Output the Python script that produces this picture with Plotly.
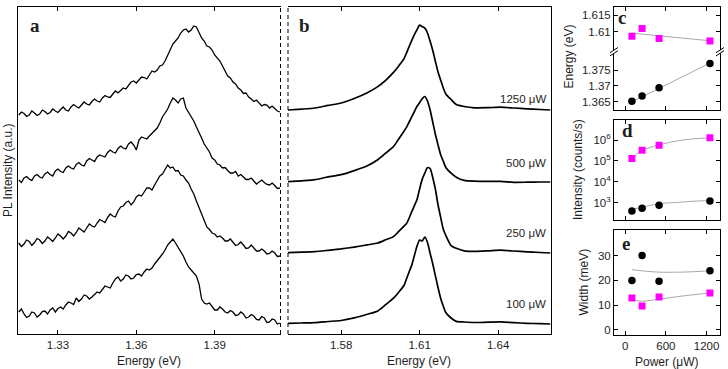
import plotly.graph_objects as go

W, H = 728, 369

# ---------------- Panel a: PL spectra (low-energy band), offsets included ----------------
energy_a = [1.315, 1.316, 1.317, 1.318, 1.319, 1.320, 1.321, 1.322, 1.323, 1.324,
            1.325, 1.326, 1.327, 1.328, 1.329, 1.330, 1.331, 1.332, 1.333, 1.334,
            1.335, 1.336, 1.337, 1.338, 1.339, 1.340, 1.341, 1.342, 1.343, 1.344,
            1.345, 1.346, 1.347, 1.348, 1.349, 1.350, 1.351, 1.352, 1.353, 1.354,
            1.355, 1.356, 1.357, 1.358, 1.359, 1.360, 1.361, 1.362, 1.363, 1.364,
            1.365, 1.366, 1.367, 1.368, 1.369, 1.370, 1.371, 1.372, 1.373, 1.374,
            1.375, 1.376, 1.377, 1.378, 1.379, 1.380, 1.381, 1.382, 1.383, 1.384,
            1.385, 1.386, 1.387, 1.388, 1.389, 1.390, 1.391, 1.392, 1.393, 1.394,
            1.395, 1.396, 1.397, 1.398, 1.399, 1.400, 1.401, 1.402, 1.403, 1.404,
            1.405, 1.406, 1.407, 1.408, 1.409, 1.410, 1.411, 1.412, 1.413, 1.414,
            1.415]
pl_a_1250 = [219, 222, 220.5, 217.5, 219, 223, 221, 218.5, 220, 224,
             222.5, 220, 221.5, 225, 223, 221.5, 224.5, 227, 224, 223,
             227, 229.5, 227.5, 226, 229, 232, 230, 229, 232.5, 235,
             233, 232, 236, 238.5, 237, 236.5, 240, 243, 241, 244,
             246, 245, 249, 252, 253, 251, 254, 257, 256.5, 255,
             259, 263, 262, 264, 268, 269, 273, 279, 284, 290,
             293, 296, 301, 304, 305, 302, 304, 308, 307, 301,
             296, 293, 288, 287, 284, 279, 276, 273, 268, 263,
             258, 256, 252, 250, 246, 244, 240.5, 241, 237, 235,
             232.5, 234, 231, 228, 229.5, 229, 226, 228, 225.5, 223,
             222]
pl_a_500 = [154, 151.5, 156, 157.5, 155, 153.5, 158, 159.5, 157, 156,
            160, 162, 159.5, 158, 163, 165, 162.5, 161.5, 166, 168,
            166, 165, 169.5, 171.5, 169, 168, 173, 175.5, 174, 172.5,
            177, 179, 178, 177, 181.5, 184, 182, 181, 185.5, 188,
            186, 185, 190, 192, 189, 184, 194, 197, 196, 195,
            198, 201, 203, 206, 211, 217, 221, 225, 231, 236,
            234, 231, 235, 236, 226, 222, 217, 213, 207, 202,
            196, 190, 186, 182, 176, 174, 170, 169, 166, 166.5,
            163.5, 161, 161, 162.5, 158, 159.5, 157, 154.5, 154.5, 156,
            153, 150, 152, 154, 151.5, 149.5, 149, 151, 148.5, 145.5,
            146]
pl_a_250 = [91, 87.5, 90, 94, 92.5, 88.5, 91.5, 95.5, 94, 90.5,
            93, 97, 95, 92.5, 96, 100, 98, 95, 98, 102.5,
            101, 98, 101.5, 106, 104, 102, 106, 110, 108, 107,
            111, 114.5, 113, 111.5, 116.5, 120, 118, 117, 123, 127,
            128, 131.5, 133, 129, 132, 137, 139, 138, 142, 146,
            146, 144, 149, 154, 158, 160, 165, 169, 166, 167,
            163, 163.5, 159, 158, 154, 151, 145, 140, 133, 126,
            119, 112, 107, 104.5, 101, 100, 97, 98, 96, 93,
            93, 95, 92, 88.5, 89.5, 92, 89, 85.5, 86, 89,
            86, 83, 83, 85, 83, 80, 80.5, 83, 81, 77.5,
            78]
pl_a_100 = [22, 25, 20, 16.5, 18, 22, 21, 17, 19, 22.5,
            23, 20, 24, 26, 22, 25.5, 27, 25, 29, 32,
            31, 29.5, 36, 32.5, 35, 39, 38, 35, 37, 40,
            42, 41, 45, 48, 47, 46, 51, 55, 57, 53,
            55, 59, 58, 55, 56, 59.5, 60, 58, 62, 65,
            64, 66, 70, 73, 77, 80, 84, 89, 92, 95,
            91, 87, 83, 78, 72, 67, 64, 61, 58, 50,
            35, 31, 30, 31, 27, 24, 24, 27, 25, 22,
            21, 23.5, 22, 18.5, 19, 22, 20, 16, 17, 19.5,
            18, 14.5, 14, 17.5, 16, 11.5, 12, 15, 14, 10,
            11]

# ---------------- Panel b: PL spectra (high-energy band), offsets included ----------------
energy_b = [1.5597, 1.565, 1.57, 1.575, 1.58, 1.585, 1.59, 1.594, 1.597, 1.600,
            1.602, 1.604, 1.605, 1.606, 1.607, 1.608, 1.609, 1.610, 1.611, 1.612,
            1.613, 1.614, 1.615, 1.616, 1.617, 1.618, 1.619, 1.620, 1.622, 1.624,
            1.627, 1.631, 1.636, 1.641, 1.646, 1.651, 1.656, 1.660]
pl_b_1250 = [224, 224.9, 226, 228.6, 231, 235.5, 241.3, 247.4, 253.7, 261.6,
             268.1, 275.2, 281.2, 287.5, 293.6, 299.3, 304.3, 308.9, 307.3, 305.8,
             301, 292.7, 283.7, 272.8, 262.3, 254.1, 246.3, 240, 234.5, 229.5,
             227.5, 226.2, 226.3, 226.8, 226, 225.2, 224.5, 224]
pl_b_500 = [152.3, 153.2, 154.3, 157.1, 159.3, 163.4, 168.3, 174.3, 180.8, 187.4,
            195, 202.8, 206.8, 212, 217.3, 222.5, 227.7, 231.5, 235.4, 237.5,
            233, 224, 212, 199.7, 189.4, 179.5, 173, 166.5, 160.8, 156.8,
            153.6, 152.8, 152.6, 152.7, 151.7, 151.8, 152, 152]
pl_b_250 = [81.3, 81.8, 82.4, 83.7, 85.1, 86.9, 89.1, 91, 94.2, 97.4,
            102.6, 107.8, 110.4, 116, 122.3, 128.4, 134.6, 145.2, 154.9, 161,
            166.5, 165.5, 156.5, 145, 129.5, 117.1, 105, 98.5, 88.4, 85.7,
            83.2, 82.6, 83.1, 83.8, 83, 82.2, 81.5, 81]
pl_b_100 = [10.7, 11, 11.4, 12.5, 13.5, 16.1, 19.7, 23, 29.3, 35.8,
            41.8, 48.5, 55.3, 62.3, 69, 78.6, 88, 94, 93, 97,
            91.5, 80.7, 70.2, 58.4, 46.7, 36, 28, 21.5, 16, 12.6,
            12, 11.5, 11.8, 12.1, 11.3, 10.7, 10.3, 10]
power_labels = ["1250 μW", "500 μW", "250 μW", "100 μW"]
power_label_y = [227, 163, 93, 22]

# ---------------- Panels c, d, e ----------------
power_uW = [100, 250, 500, 1250]
energy_high = [1.6087, 1.6110, 1.6080, 1.6072]
energy_low = [1.3652, 1.3668, 1.3694, 1.3771]
fit_power_c = [100, 1250]
fit_energy_high = [1.6096, 1.6073]
fit_energy_low = [1.3650, 1.3772]

intensity_high = [131800, 331100, 575400, 1288000]
intensity_low = [398, 537, 759, 1202]
fit_power_d = [100, 250, 500, 800, 1000, 1250]
fit_int_high = [141000, 316000, 589000, 955000, 1148000, 1288000]
fit_int_low = [479, 603, 891, 1047, 1175, 1259]

width_high = [12.9, 9.7, 13.3, 14.9]
width_low = [19.9, 30.0, 19.6, 23.9]
fit_power_e_low = [100, 300, 500, 800, 1100, 1250]
fit_width_low = [24.3, 23.7, 23.3, 23.3, 23.6, 23.9]
fit_power_e_high = [100, 250, 500, 850, 1250]
fit_width_high = [12.1, 11.6, 12.4, 13.7, 14.9]

BLACK = "#000000"
MAGENTA = "#ff00ff"
GRAY = "#a8a8a8"
TXT = "#1e1e1e"
SANS = "Liberation Sans, Arial, sans-serif"
SERIF = "Liberation Serif, Times New Roman, serif"


def fx(p):
    return p / W


def fy(p):
    return 1 - p / H


fig = go.Figure()

for ys in [pl_a_100, pl_a_250, pl_a_500, pl_a_1250]:
    fig.add_trace(go.Scatter(x=energy_a, y=ys, mode="lines", xaxis="x", yaxis="y",
                             line=dict(color=BLACK, width=1.3), hoverinfo="skip", showlegend=False))
for ys in [pl_b_100, pl_b_250, pl_b_500, pl_b_1250]:
    fig.add_trace(go.Scatter(x=energy_b, y=ys, mode="lines", xaxis="x2", yaxis="y2",
                             line=dict(color=BLACK, width=1.7, shape="spline", smoothing=0.6),
                             hoverinfo="skip", showlegend=False))

# panel c
fig.add_trace(go.Scatter(x=fit_power_c, y=fit_energy_low, mode="lines", xaxis="x3", yaxis="y3",
                         line=dict(color=GRAY, width=1), showlegend=False, hoverinfo="skip"))
fig.add_trace(go.Scatter(x=power_uW, y=energy_low, mode="markers", xaxis="x3", yaxis="y3",
                         marker=dict(color=BLACK, size=7.5, symbol="circle"), showlegend=False))
fig.add_trace(go.Scatter(x=fit_power_c, y=fit_energy_high, mode="lines", xaxis="x4", yaxis="y4",
                         line=dict(color=GRAY, width=1), showlegend=False, hoverinfo="skip"))
fig.add_trace(go.Scatter(x=power_uW, y=energy_high, mode="markers", xaxis="x4", yaxis="y4",
                         marker=dict(color=MAGENTA, size=7, symbol="square"), showlegend=False))
# panel d
fig.add_trace(go.Scatter(x=fit_power_d, y=fit_int_high, mode="lines", xaxis="x5", yaxis="y5",
                         line=dict(color=GRAY, width=1, shape="spline"), showlegend=False, hoverinfo="skip"))
fig.add_trace(go.Scatter(x=fit_power_d, y=fit_int_low, mode="lines", xaxis="x5", yaxis="y5",
                         line=dict(color=GRAY, width=1, shape="spline"), showlegend=False, hoverinfo="skip"))
fig.add_trace(go.Scatter(x=power_uW, y=intensity_high, mode="markers", xaxis="x5", yaxis="y5",
                         marker=dict(color=MAGENTA, size=7, symbol="square"), showlegend=False))
fig.add_trace(go.Scatter(x=power_uW, y=intensity_low, mode="markers", xaxis="x5", yaxis="y5",
                         marker=dict(color=BLACK, size=7.5, symbol="circle"), showlegend=False))
# panel e
fig.add_trace(go.Scatter(x=fit_power_e_low, y=fit_width_low, mode="lines", xaxis="x6", yaxis="y6",
                         line=dict(color=GRAY, width=1, shape="spline"), showlegend=False, hoverinfo="skip"))
fig.add_trace(go.Scatter(x=fit_power_e_high, y=fit_width_high, mode="lines", xaxis="x6", yaxis="y6",
                         line=dict(color=GRAY, width=1, shape="spline"), showlegend=False, hoverinfo="skip"))
fig.add_trace(go.Scatter(x=power_uW, y=width_low, mode="markers", xaxis="x6", yaxis="y6",
                         marker=dict(color=BLACK, size=7.5, symbol="circle"), showlegend=False))
fig.add_trace(go.Scatter(x=power_uW, y=width_high, mode="markers", xaxis="x6", yaxis="y6",
                         marker=dict(color=MAGENTA, size=7, symbol="square"), showlegend=False))

base = dict(showgrid=False, zeroline=False, showline=True, linecolor=BLACK, linewidth=1,
            tickcolor=BLACK, tickwidth=1, ticklen=4, ticks="inside",
            tickfont=dict(family=SANS, size=11.5, color=TXT))

dom_a = [fx(18), fx(280.5)]
dom_b = [fx(288), fx(550.5)]
dom_y_ab = [fy(334), fy(7)]
dom_r = [fx(614), fx(720)]
prange = [-164, 1398]

fig.update_layout(
    width=W, height=H, margin=dict(l=0, r=0, t=0, b=0),
    paper_bgcolor="white", plot_bgcolor="rgba(0,0,0,0)", showlegend=False,
    xaxis=dict(base, domain=dom_a, range=[1.3147, 1.4152], anchor="y", mirror="allticks",
               tickvals=[1.33, 1.36, 1.39], ticktext=["1.33", "1.36", "1.39"]),
    yaxis=dict(base, domain=dom_y_ab, range=[0, 327], anchor="x", ticks="", showticklabels=False),
    xaxis2=dict(base, domain=dom_b, range=[1.5597, 1.6600], anchor="y2", mirror="allticks",
                tickvals=[1.58, 1.61, 1.64], ticktext=["1.58", "1.61", "1.64"]),
    yaxis2=dict(base, domain=dom_y_ab, range=[0, 327], anchor="x2", side="right", ticks="",
                showticklabels=False),
    xaxis3=dict(base, domain=dom_r, range=prange, anchor="y3", side="bottom",
                tickvals=[0, 600, 1200], showticklabels=False),
    yaxis3=dict(base, domain=[fy(110), fy(51.7)], range=[1.3624, 1.3808], anchor="x3", mirror="allticks",
                tickvals=[1.365, 1.37, 1.375], ticktext=["1.365", "1.37", "1.375"]),
    xaxis4=dict(base, domain=dom_r, range=prange, anchor="y4", side="top",
                tickvals=[0, 600, 1200], showticklabels=False),
    yaxis4=dict(base, domain=[fy(51.7), fy(7)], range=[1.6040, 1.6175], anchor="x4", mirror="allticks",
                tickvals=[1.61, 1.615], ticktext=["1.61", "1.615"]),
    xaxis5=dict(base, domain=dom_r, range=prange, anchor="y5", mirror="allticks",
                tickvals=[0, 600, 1200], showticklabels=False),
    yaxis5=dict(base, domain=[fy(220), fy(119.5)], type="log", range=[2.17, 6.99], anchor="x5",
                mirror="allticks", tickvals=[1e3, 1e4, 1e5, 1e6],
                ticktext=["10<sup>3</sup>", "10<sup>4</sup>", "10<sup>5</sup>", "10<sup>6</sup>"]),
    xaxis6=dict(base, domain=dom_r, range=prange, anchor="y6", mirror="allticks",
                tickvals=[0, 600, 1200], ticktext=["0", "600", "1200"]),
    yaxis6=dict(base, domain=[fy(334.7), fy(229.7)], range=[-1.9, 40.4], anchor="x6", mirror="allticks",
                tickvals=[0, 10, 20, 30], ticktext=["0", "10", "20", "30"]),
)

ann = []


def text(x, y, s, size=12, angle=0, xanchor="center", family=SANS, bold=False):
    ann.append(dict(x=fx(x), y=fy(y), xref="paper", yref="paper", text=("<b>%s</b>" % s) if bold else s,
                    showarrow=False, xanchor=xanchor, yanchor="middle", textangle=angle,
                    font=dict(family=family, size=size, color=TXT)))


text(149, 360.5, "Energy (eV)")
text(419, 360.5, "Energy (eV)")
text(667, 361.5, "Power (μW)")
text(8, 170, "PL Intensity (a.u.)", angle=-90)
text(568.5, 57, "Energy (eV)", angle=-90)
text(578, 170, "Intensity (counts/s)", angle=-90)
text(583.5, 282, "Width (meV)", angle=-90)

# power labels in panel b (placed in data coordinates of panel b)
for lab, yv in zip(power_labels, power_label_y):
    ann.append(dict(x=1.6590, y=yv, xref="x2", yref="y2", text=lab, showarrow=False,
                    xanchor="right", yanchor="bottom", font=dict(family=SANS, size=11.5, color=TXT)))

for lab, x, y in [("a", 28, 25), ("b", 297, 25), ("c", 616, 17), ("d", 620, 130.5), ("e", 619.5, 243)]:
    text(x, y, lab, size=19, xanchor="left", family=SERIF, bold=True)

fig.update_layout(annotations=ann)

shapes = []
for xp in [280.5, 288]:
    shapes.append(dict(type="line", xref="paper", yref="paper", x0=fx(xp), x1=fx(xp), y0=fy(334), y1=fy(7),
                       line=dict(color=BLACK, width=1, dash="4px,3px")))
# axis-break marks in panel c
for xc in [614, 720]:
    shapes.append(dict(type="rect", xref="paper", yref="paper", x0=fx(xc - 2.5), x1=fx(xc + 2.5),
                       y0=fy(53.2), y1=fy(50.2), line=dict(width=0), fillcolor="white"))
    for dy in [-1.6, 1.6]:
        shapes.append(dict(type="line", xref="paper", yref="paper",
                           x0=fx(xc - 4), x1=fx(xc + 4), y0=fy(51.7 + dy + 2.6), y1=fy(51.7 + dy - 2.6),
                           line=dict(color=BLACK, width=1)))
fig.update_layout(shapes=shapes)

fig.write_html("out.html")
